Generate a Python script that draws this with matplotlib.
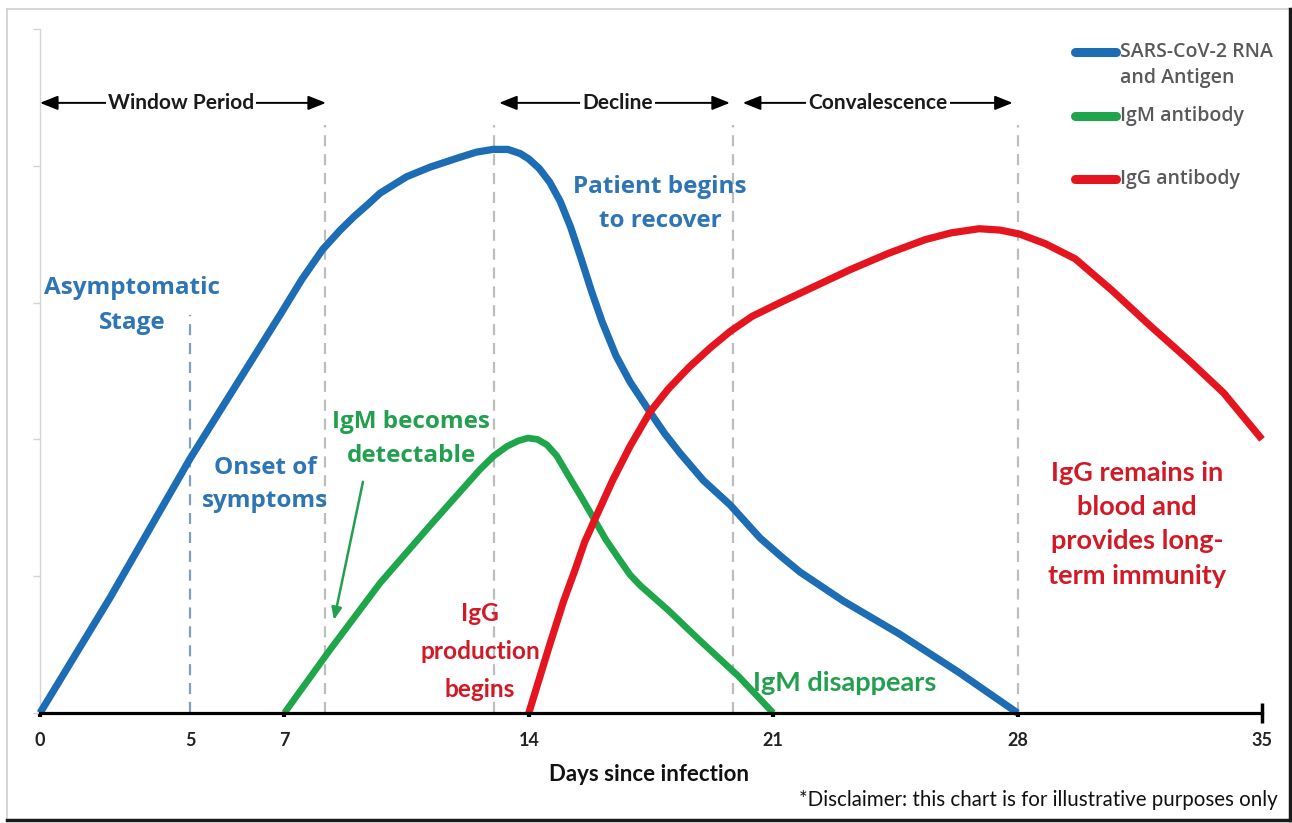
import matplotlib
matplotlib.use("Agg")
import matplotlib.pyplot as plt
from matplotlib.lines import Line2D

# ---------------- data ----------------
days_ticks = [0, 4.3, 7, 14, 21, 28, 35]
days_labels = ["0", "5", "7", "14", "21", "28", "35"]

rna_x = [0, 2.0, 4.3, 6.9, 7.5, 8.1, 8.6, 9.0, 9.4, 9.74, 10.5, 11.17, 12.0, 12.5,
         12.98, 13.4, 13.75, 14.0, 14.3, 14.6, 14.9, 15.2, 15.5, 15.8, 16.1, 16.5,
         16.9, 17.47, 17.9, 18.33, 19.0, 19.77, 20.62, 21.2, 21.77, 23.0, 24.6,
         26.3, 28]
rna_y = [0, 0.84, 1.86, 2.92, 3.17, 3.39, 3.53, 3.63, 3.72, 3.80, 3.92, 3.99, 4.06,
         4.10, 4.12, 4.12, 4.09, 4.05, 3.98, 3.88, 3.74, 3.55, 3.32, 3.08, 2.86,
         2.61, 2.42, 2.20, 2.04, 1.90, 1.70, 1.52, 1.28, 1.15, 1.03, 0.82, 0.58,
         0.30, 0]

igm_x = [7, 8.3, 9.74, 11.17, 12.6, 13.0, 13.38, 13.7, 13.98, 14.25, 14.52, 14.8,
         15.1, 15.5, 15.84, 16.2, 16.6, 16.9, 17.2, 17.6, 18.0, 18.9, 20.0, 21]
igm_y = [0, 0.46, 0.95, 1.37, 1.78, 1.88, 1.95, 1.99, 2.01, 2.00, 1.96, 1.88,
         1.75, 1.58, 1.43, 1.27, 1.12, 1.01, 0.93, 0.84, 0.75, 0.53, 0.27, 0]

igg_x = [14, 14.6, 15.0, 15.33, 15.6, 15.9, 16.4, 16.9, 17.47, 18.0, 18.6, 19.2,
         19.77, 20.4, 21.2, 22.2, 23.2, 24.3, 25.35, 26.1, 26.9, 27.5, 28.07, 28.8,
         29.65, 30.7, 31.8, 32.9, 33.9, 35]
igg_y = [0, 0.5, 0.82, 1.05, 1.25, 1.42, 1.70, 1.95, 2.20, 2.37, 2.53, 2.67,
         2.79, 2.90, 3.00, 3.12, 3.24, 3.36, 3.46, 3.51, 3.54, 3.53, 3.50, 3.43,
         3.32, 3.09, 2.83, 2.58, 2.34, 2.0]

series_labels = ["SARS-CoV-2 RNA\nand Antigen", "IgM antibody", "IgG antibody"]

phase_names = ["Window Period", "Decline", "Convalescence"]
phase_start = [0, 13.15, 20.13]
phase_end = [8.19, 19.76, 27.86]
phase_text_x = [4.04, 16.54, 24.0]

stage_lines = [8.16, 13.0, 19.85, 28.0]
onset_line = 4.3

# ---------------- style ----------------
BLUE = "#1c6db3"
GREEN = "#1fa64a"
RED = "#e51520"
BLUE_T = "#2e75b6"
GREEN_T = "#22a050"
RED_T = "#d11a25"

W, H = 1292, 823
fig = plt.figure(figsize=(W / 100, H / 100), dpi=100)
fig.patch.set_facecolor("white")

def fx(px):
    return px / W

def fy(py):
    return 1 - py / H

ax = fig.add_axes([fx(40), fy(713), fx(1262) - fx(40), fy(29) - fy(713)])
ax.set_xlim(0, 35)
ax.set_ylim(0, 5)

# spines
for s in ["top", "right"]:
    ax.spines[s].set_visible(False)
ax.spines["left"].set_color("#d4d4d4")
ax.spines["left"].set_linewidth(1.0)
ax.spines["bottom"].set_color("black")
ax.spines["bottom"].set_linewidth(2.3)
ax.spines["bottom"].set_zorder(6)

ax.set_yticks([0, 1, 2, 3, 4, 5])
ax.set_yticklabels([])
ax.tick_params(axis="y", direction="out", length=5, width=1.0, color="#d4d4d4")

ax.set_xticks(days_ticks)
ax.set_xticklabels(days_labels, fontfamily="Lato", fontweight="bold", fontsize=13,
                   color="#222222")
ax.tick_params(axis="x", direction="out", length=3, width=3, color="black", pad=11)
ticks = ax.xaxis.get_major_ticks()
ticks[1].tick1line.set_visible(False)
ticks[-1].tick1line.set_marker("|")
ticks[-1].tick1line.set_markersize(15)
ticks[-1].tick1line.set_markeredgewidth(2.5)

ax.set_xlabel("Days since infection", fontfamily="Lato", fontweight="bold",
              fontsize=16, color="#111111")
ax.xaxis.set_label_coords((649 - 40) / 1222, (713 - 764) / 684)

# dashed vertical guides
for xv in stage_lines:
    ax.plot([xv, xv], [0, 4.3], color="#bdbdbd", lw=1.6, dashes=(5, 3.5), zorder=1)
ax.plot([onset_line, onset_line], [0, 2.91], color="#7f9fc4", lw=1.6,
        dashes=(5, 3.5), zorder=1)

# curves
ax.plot(rna_x, rna_y, color=BLUE, lw=5.2, solid_joinstyle="round",
        solid_capstyle="butt", clip_on=False, zorder=3)
ax.plot(igm_x, igm_y, color=GREEN, lw=4.8, solid_joinstyle="round",
        solid_capstyle="butt", clip_on=False, zorder=3)
ax.plot(igg_x, igg_y, color=RED, lw=5.2, solid_joinstyle="round",
        solid_capstyle="butt", clip_on=False, zorder=4)

# phase headers
for name, x0, x1, xt in zip(phase_names, phase_start, phase_end, phase_text_x):
    yv = 4.46
    ax.annotate("", xy=(x1, yv), xytext=(x0, yv), annotation_clip=False,
                arrowprops=dict(arrowstyle="<|-|>,head_length=0.6,head_width=0.24",
                                mutation_scale=18, color="black", lw=1.4,
                                shrinkA=0, shrinkB=0))
    ax.text(xt, yv, name, ha="center", va="center", fontfamily="Lato",
            fontweight="bold", fontsize=15, color="#1a1a1a", zorder=5,
            bbox=dict(boxstyle="square,pad=0.1", fc="white", ec="none"))

# annotations
OS = dict(fontfamily="Open Sans", fontweight="bold", ha="center", va="center")
ax.text(2.63, 2.98, "Asymptomatic\nStage", fontsize=17.5, color=BLUE_T,
        linespacing=1.58, **OS)
ax.text(6.44, 1.67, "Onset of\nsymptoms", fontsize=17.5, color=BLUE_T,
        linespacing=1.55, **OS)
ax.text(17.76, 3.72, "Patient begins\nto recover", fontsize=17.5, color=BLUE_T,
        linespacing=1.55, **OS)
ax.text(10.63, 2.0, "IgM becomes\ndetectable", fontsize=17.5, color=GREEN_T,
        linespacing=1.55, **OS)
ax.annotate("", xy=(8.42, 0.68), xytext=(9.25, 1.69),
            arrowprops=dict(arrowstyle="-|>,head_length=0.6,head_width=0.25",
                            mutation_scale=12, color=GREEN_T, lw=1.8,
                            shrinkA=0, shrinkB=0))
ax.text(12.6, 0.45, "IgG\nproduction\nbegins", ha="center", va="center",
        fontfamily="Lato", fontweight="bold", fontsize=17.6, color=RED_T,
        linespacing=1.77)
ax.text(23.06, 0.22, "IgM disappears", ha="center", va="center",
        fontfamily="Lato", fontweight="bold", fontsize=19.5, color=GREEN_T)
ax.text(31.42, 1.38, "IgG remains in\nblood and\nprovides long-\nterm immunity",
        ha="center", va="center", fontfamily="Lato", fontweight="bold",
        fontsize=19.5, color=RED_T, linespacing=1.52)

# legend (manual)
leg_colors = [BLUE, GREEN, RED]
leg_y = [52, 116, 179]
leg_text_y = [65, 116, 179]
for c, ly, lab, ty in zip(leg_colors, leg_y, series_labels, leg_text_y):
    fig.add_artist(Line2D([fx(1075), fx(1116)], [fy(ly), fy(ly)], color=c, lw=6.5,
                          solid_capstyle="round"))
    fig.text(fx(1120), fy(ty), lab, ha="left", va="center", fontfamily="Open Sans",
             fontweight="semibold", fontsize=14, color="#595959", linespacing=1.4)

# disclaimer
fig.text(fx(1278), fy(800), "*Disclaimer: this chart is for illustrative purposes only",
         ha="right", va="center", fontfamily="Lato", fontsize=14.8, color="#111111")

# frame
fig.add_artist(Line2D([fx(7), fx(1290)], [fy(9), fy(9)], color="#d0d0d0", lw=1.2))
fig.add_artist(Line2D([fx(7), fx(7)], [fy(9), fy(820)], color="#d0d0d0", lw=1.2))
fig.add_artist(Line2D([fx(7), fx(1290)], [fy(820), fy(820)], color="#1a1a1a", lw=2.5))
fig.add_artist(Line2D([fx(1290), fx(1290)], [fy(9), fy(820)], color="#1a1a1a", lw=2.5))

fig.savefig("out.png", dpi=100, facecolor="white")
